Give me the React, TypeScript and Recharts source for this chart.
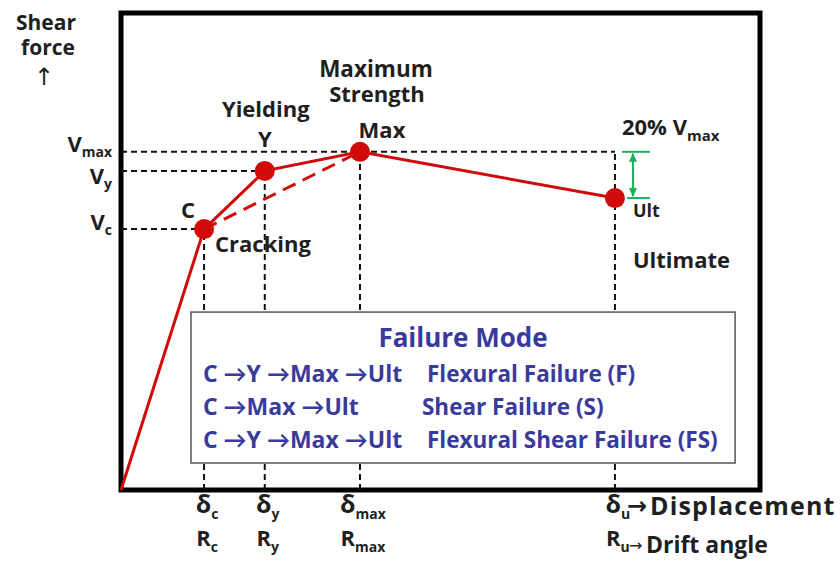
import {
  LineChart,
  Line,
  XAxis,
  YAxis,
  ReferenceLine,
  ReferenceArea,
  ReferenceDot,
} from 'recharts';

// Key points of the skeleton curve (relative units, 0-100 on both axes)
const pointNames = ['O', 'C', 'Y', 'Max', 'Ult'];
const displacement = [0, 13, 22.5, 37.4, 77.3];
const shearForce = [0, 54.7, 66.9, 70.9, 61.2];

// Tick labels as [symbol, subscript]
const forceTickLabels = [['V', 'c'], ['V', 'y'], ['V', 'max']];
const dispTickLabels = [['δ', 'c'], ['δ', 'y'], ['δ', 'max'], ['δ', 'u']];
const driftTickLabels = [['R', 'c'], ['R', 'y'], ['R', 'max'], ['R', 'u']];

// Failure mode table
const failurePaths = ['C →Y →Max →Ult', 'C →Max →Ult', 'C →Y →Max →Ult'];
const failureModes = ['Flexural Failure (F)', 'Shear Failure (S)', 'Flexural Shear Failure (FS)'];

const C = 1;
const Y = 2;
const MAX = 3;
const ULT = 4;

const RED = '#d10a0a';
const INK = '#1f1f1f';
const BLUE = '#3a3a9c';
const GREEN = '#1fae5a';
const FONT = "'Open Sans', Lato, 'DejaVu Sans', sans-serif";

const curve = pointNames.map((name, i) => ({ name, x: displacement[i], v: shearForce[i] }));
const shortcut = [curve[C], curve[MAX]];
const forceTicks = [shearForce[C], shearForce[Y], shearForce[MAX]];
const dispTicks = displacement.slice(1);

const txt = { fontFamily: FONT, fontWeight: 700, fill: INK } as const;

const ForceTick = (props: any) => {
  const { x, y, index } = props;
  const [sym, sub] = forceTickLabels[index] ?? ['', ''];
  const dy = [1, 13, 0][index] ?? 0;
  return (
    <text x={x - 9} y={y + dy} textAnchor="end" fontSize={22} {...txt}>
      {sym}
      <tspan dy={5} fontSize={14}>{sub}</tspan>
    </text>
  );
};

const DispTick = (props: any) => {
  const { x, y, index } = props;
  const [d, ds] = dispTickLabels[index] ?? ['', ''];
  const [r, rs] = driftTickLabels[index] ?? ['', ''];
  return (
    <g>
      <text x={x + 3} y={y + 23} textAnchor="middle" fontSize={25} {...txt}>
        {d}
        <tspan dy={6} fontSize={14}>{ds}</tspan>
      </text>
      <text x={x + 3} y={y + 56} textAnchor="middle" fontSize={22} {...txt}>
        {r}
        <tspan dy={6} fontSize={14}>{rs}</tspan>
      </text>
    </g>
  );
};

const renderDot = (props: any) => {
  const { cx, cy, index } = props;
  if (index === 0) return <g key={`dot-${index}`} />;
  return <circle key={`dot-${index}`} cx={cx} cy={cy} r={10} fill={RED} />;
};

// green 20% Vmax drop marker, drawn beside the ultimate point
const DropArrow = (props: any) => {
  const { x1, y1, y2 } = props;
  const x = x1 + 18;
  return (
    <g stroke={GREEN} strokeWidth={2} fill={GREEN}>
      <line x1={x - 11} y1={y1} x2={x + 17} y2={y1} />
      <line x1={x - 6} y1={y2} x2={x + 17} y2={y2} />
      <line x1={x} y1={y1 + 2} x2={x} y2={y2 - 2} />
      <polygon points={`${x},${y1 + 1} ${x - 4},${y1 + 10} ${x + 4},${y1 + 10}`} stroke="none" />
      <polygon points={`${x},${y2 - 1} ${x - 4},${y2 - 10} ${x + 4},${y2 - 10}`} stroke="none" />
    </g>
  );
};

// failure mode table, drawn as the box spanned by a reference segment
const FailureBox = (props: any) => {
  const x = Math.min(props.x1, props.x2);
  const y = Math.min(props.y1, props.y2);
  const width = Math.abs(props.x2 - props.x1);
  const height = Math.abs(props.y2 - props.y1);
  return (
    <g>
      <rect x={x} y={y} width={width} height={height} fill="#fff" stroke="#555" strokeWidth={1.5} />
      <g fontFamily={FONT} fontWeight={700} fill={BLUE}>
        <text x={x + width / 2} y={y + 35} textAnchor="middle" fontSize={26}>Failure Mode</text>
        {failurePaths.map((path, i) => (
          <text key={`p-${i}`} x={x + 12} y={y + 70 + i * 33} fontSize={23}>{path}</text>
        ))}
        {failureModes.map((mode, i) => (
          <text key={`m-${i}`} x={x + (i === 1 ? 231 : 236)} y={y + 70 + i * 33} fontSize={22.5}>{mode}</text>
        ))}
      </g>
    </g>
  );
};

const guide = { stroke: '#111', strokeWidth: 2, strokeDasharray: '6 4' };

export default function App() {
  return (
    <div style={{ position: 'absolute', left: 0, top: 0, background: '#fff' }}>
      <LineChart width={840} height={564} margin={{ top: 13, right: 80, bottom: 0, left: 0 }}>
        <XAxis
          type="number"
          dataKey="x"
          domain={[0, 100]}
          ticks={dispTicks}
          interval={0}
          height={74}
          axisLine={false}
          tickLine={false}
          tickSize={0}
          tickMargin={0}
          tick={DispTick}
        />
        <YAxis
          type="number"
          dataKey="v"
          domain={[0, 100]}
          ticks={forceTicks}
          interval={0}
          width={121}
          axisLine={false}
          tickLine={false}
          tickSize={0}
          tickMargin={0}
          tick={ForceTick}
          label={{
            content: (p: any) => {
              const vb = p.viewBox;
              return (
                <g>
                  <text x={vb.x + 46} y={vb.y + 17} textAnchor="middle" fontSize={21} {...txt}>Shear</text>
                  <text x={vb.x + 48} y={vb.y + 42} textAnchor="middle" fontSize={21} {...txt}>force</text>
                  <text x={vb.x + 44} y={vb.y + 72} textAnchor="middle" fontSize={24} fontFamily="DejaVu Sans" fill={INK}>↑</text>
                </g>
              );
            },
          }}
        />

        {/* frame */}
        <ReferenceArea x1={0} x2={100} y1={0} y2={100} fill="none" stroke="#000" strokeWidth={5} />

        {/* dashed guides to the axes */}
        <ReferenceLine segment={[{ x: 0, y: shearForce[C] }, { x: displacement[C], y: shearForce[C] }]} {...guide} />
        <ReferenceLine segment={[{ x: 0, y: shearForce[Y] }, { x: displacement[Y], y: shearForce[Y] }]} {...guide} />
        <ReferenceLine segment={[{ x: 0, y: shearForce[MAX] }, { x: displacement[ULT], y: shearForce[MAX] }]} {...guide} />
        <ReferenceLine segment={[{ x: displacement[C], y: 0 }, { x: displacement[C], y: shearForce[C] }]} {...guide} />
        <ReferenceLine segment={[{ x: displacement[Y], y: 0 }, { x: displacement[Y], y: shearForce[Y] }]} {...guide} />
        <ReferenceLine segment={[{ x: displacement[MAX], y: 0 }, { x: displacement[MAX], y: shearForce[MAX] }]} {...guide} />
        <ReferenceLine segment={[{ x: displacement[ULT], y: 0 }, { x: displacement[ULT], y: shearForce[MAX] }]} {...guide} />

        {/* failure mode box, on top of the guides */}
        <ReferenceLine segment={[{ x: 10.95, y: 37.3 }, { x: 96.1, y: 5.66 }]} shape={FailureBox} />

        {/* 20% Vmax marker */}
        <ReferenceLine
          segment={[{ x: displacement[ULT], y: shearForce[MAX] }, { x: displacement[ULT], y: shearForce[ULT] }]}
          shape={DropArrow}
        />

        <Line
          data={shortcut}
          dataKey="v"
          stroke={RED}
          strokeWidth={3}
          strokeDasharray="14 8"
          dot={false}
          isAnimationActive={false}
        />
        <Line
          data={curve}
          dataKey="v"
          stroke={RED}
          strokeWidth={3}
          dot={renderDot}
          activeDot={false}
          isAnimationActive={false}
        />

        {/* point annotations */}
        <ReferenceDot
          x={displacement[C]}
          y={shearForce[C]}
          r={0}
          fill="none"
          stroke="none"
          label={{
            content: (p: any) => {
              const { x, y } = p.viewBox;
              return (
                <g>
                  <text x={x - 16} y={y - 11} textAnchor="middle" fontSize={22} {...txt}>C</text>
                  <text x={x + 11} y={y + 23} fontSize={22} {...txt}>Cracking</text>
                </g>
              );
            },
          }}
        />
        <ReferenceDot
          x={displacement[Y]}
          y={shearForce[Y]}
          r={0}
          fill="none"
          stroke="none"
          label={{
            content: (p: any) => {
              const { x, y } = p.viewBox;
              return (
                <g>
                  <text x={x + 1} y={y - 54} textAnchor="middle" fontSize={22} {...txt}>Yielding</text>
                  <text x={x} y={y - 24} textAnchor="middle" fontSize={22} {...txt}>Y</text>
                </g>
              );
            },
          }}
        />
        <ReferenceDot
          x={displacement[MAX]}
          y={shearForce[MAX]}
          r={0}
          fill="none"
          stroke="none"
          label={{
            content: (p: any) => {
              const { x, y } = p.viewBox;
              return (
                <g>
                  <text x={x + 16} y={y - 75} textAnchor="middle" fontSize={22.5} {...txt}>Maximum</text>
                  <text x={x + 17} y={y - 50} textAnchor="middle" fontSize={22} {...txt}>Strength</text>
                  <text x={x + 22} y={y - 14} textAnchor="middle" fontSize={22} {...txt}>Max</text>
                </g>
              );
            },
          }}
        />
        <ReferenceDot
          x={displacement[ULT]}
          y={shearForce[ULT]}
          r={0}
          fill="none"
          stroke="none"
          label={{
            content: (p: any) => {
              const { x, y } = p.viewBox;
              return (
                <g>
                  <text x={x + 7} y={y - 63} fontSize={22} {...txt}>
                    20% V<tspan dy={6} fontSize={15}>max</tspan>
                  </text>
                  <text x={x + 18} y={y + 19} fontSize={18} {...txt}>Ult</text>
                  <text x={x + 18} y={y + 70} fontSize={22} {...txt}>Ultimate</text>
                </g>
              );
            },
          }}
        />
        <ReferenceDot
          x={displacement[ULT]}
          y={0}
          r={0}
          fill="none"
          stroke="none"
          label={{
            content: (p: any) => {
              const { x, y } = p.viewBox;
              return (
                <g>
                  <text x={x + 12} y={y + 24} fontSize={24} fontWeight={700} fontFamily="DejaVu Sans" fill={INK}>→</text>
                  <text x={x + 35} y={y + 25} fontSize={25} letterSpacing={1.2} {...txt}>Displacement</text>
                  <text x={x + 14} y={y + 61} fontSize={16} fontFamily="DejaVu Sans" fill={INK}>→</text>
                  <text x={x + 31} y={y + 63} fontSize={23} {...txt}>Drift angle</text>
                </g>
              );
            },
          }}
        />
      </LineChart>
    </div>
  );
}
